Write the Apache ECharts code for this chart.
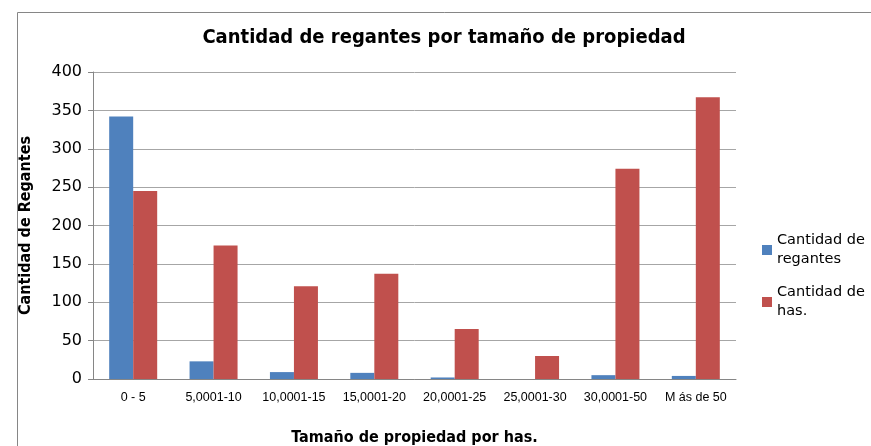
<!DOCTYPE html>
<html>
<head>
<meta charset="utf-8">
<script src="https://cdn.jsdelivr.net/npm/echarts@6/dist/echarts.min.js"></script>
<style>
  html, body { margin: 0; padding: 0; background: #fff; }
  #main { width: 871px; height: 446px; }
</style>
</head>
<body>
<div id="main"></div>
<script>
// categorias y valores
const categorias = ["0 - 5", "5,0001-10", "10,0001-15", "15,0001-20", "20,0001-25", "25,0001-30", "30,0001-50", "M ás de 50"];
const regantes = [342, 23, 9, 8, 2, 0, 5, 4];
const hectareas = [245, 174, 121, 137, 65, 30, 274, 367];
const ticksY = [0, 50, 100, 150, 200, 250, 300, 350, 400];

const myChart = echarts.init(document.getElementById("main"));
const option = {
  backgroundColor: "#fff",
  animation: false,
  graphic: [
    {
      type: "rect",
      shape: { x: 17.5, y: 12.5, width: 880, height: 460 },
      style: { fill: "none", stroke: "#868686", lineWidth: 1 }
    }
  ],
  title: {
    text: "Cantidad de regantes por tamaño de propiedad",
    left: 439,
    top: 23,
    textAlign: "center",
    textStyle: {
      fontFamily: "DejaVu Sans Condensed",
      fontWeight: "bold",
      fontSize: 20,
      color: "#000"
    }
  },
  legend: {
    orient: "vertical",
    left: 757,
    top: 226,
    itemWidth: 10,
    itemHeight: 10,
    itemGap: 14,
    icon: "rect",
    formatter: function (name) {
      return name.replace("de ", "de\n");
    },
    textStyle: {
      fontFamily: "DejaVu Sans",
      fontSize: 14.5,
      lineHeight: 19,
      color: "#000"
    }
  },
  grid: {
    left: 93,
    right: 135,
    top: 72,
    bottom: 67,
    outerBoundsMode: "none"
  },
  xAxis: {
    type: "category",
    data: categorias,
    name: "Tamaño de propiedad por has.",
    nameLocation: "middle",
    nameGap: 51,
    nameTextStyle: {
      fontFamily: "DejaVu Sans Condensed",
      fontWeight: "bold",
      fontSize: 16,
      color: "#000"
    },
    axisLine: { lineStyle: { color: "#868686" } },
    axisTick: { length: 5, lineStyle: { color: "#868686" } },
    axisLabel: {
      color: "#000",
      fontFamily: "Liberation Sans",
      fontSize: 12.5,
      margin: 12,
      interval: 0
    }
  },
  yAxis: {
    type: "value",
    min: 0,
    max: 400,
    interval: 50,
    name: "Cantidad de Regantes",
    nameLocation: "middle",
    nameGap: 59,
    nameRotate: 90,
    nameTextStyle: {
      fontFamily: "DejaVu Sans Condensed",
      fontWeight: "bold",
      fontSize: 16,
      color: "#000"
    },
    axisLine: { show: true, lineStyle: { color: "#868686" } },
    axisTick: { show: true, length: 5, lineStyle: { color: "#868686" } },
    axisLabel: {
      color: "#000",
      fontFamily: "DejaVu Sans",
      fontSize: 16,
      margin: 11,
      formatter: function (v) {
        return ticksY.indexOf(v) >= 0 ? String(v) : "";
      }
    },
    splitLine: { lineStyle: { color: "#a6a6a6" } }
  },
  series: [
    {
      name: "Cantidad de regantes",
      type: "bar",
      data: regantes,
      barWidth: 24,
      barGap: "0%",
      itemStyle: { color: "#4F81BD" }
    },
    {
      name: "Cantidad de has.",
      type: "bar",
      data: hectareas,
      barWidth: 24,
      itemStyle: { color: "#C0504D" }
    }
  ]
};
myChart.setOption(option);
</script>
</body>
</html>
